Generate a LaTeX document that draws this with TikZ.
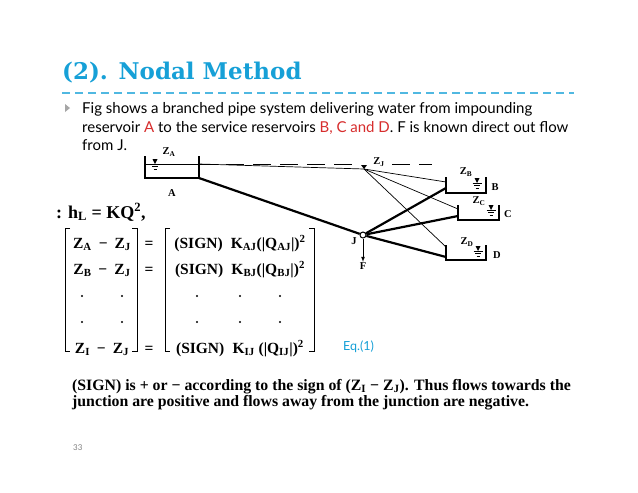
\documentclass[tikz,border=0pt]{standalone}
\usepackage{fontspec}
\setmainfont{Liberation Serif}
\newfontfamily\gillfont{Lato}
\newfontfamily\slabfont{DejaVu Serif}
\usetikzlibrary{calc}
\usetikzlibrary{arrows}
\definecolor{titlecyan}{RGB}{22,160,215}
\definecolor{textred}{RGB}{215,45,45}
\newcommand\zs[2]{#1\textsubscript{#2}}

\tikzset{
  wsym/.pic={\fill (-2.5,-5) -- (2.5,-5) -- (0,0) -- cycle;
    \draw (-4.5,0) -- (4.5,0); \draw (-3,2.5) -- (3,2.5); \draw (-1.5,5) -- (1.5,5);}
}

\begin{document}
\begin{tikzpicture}[x=1pt,y=-1pt,
  pipe/.style={line width=0.7pt},
  mainpipe/.style={line width=2.2pt},
  tank/.style={line width=1.3pt},
  lab/.style={font=\bfseries\fontsize{10.5}{10.5}\selectfont, inner sep=0.5pt},
  body/.style={font=\gillfont\fontsize{15}{15}\selectfont, inner sep=0pt, anchor=base west},
  eqn/.style={font=\bfseries\fontsize{15.5}{15.5}\selectfont, inner sep=0pt, anchor=base},
  note/.style={font=\bfseries\fontsize{15.8}{15.8}\selectfont, inner sep=0pt, anchor=base west}]
\useasboundingbox [fill=white] (0,0) rectangle (638,493);

% title and rule
\node [anchor=base west, inner sep=0pt, text=titlecyan,
  font=\slabfont\bfseries\fontsize{23}{23}\selectfont] (title) at (62,79) {(2). Nodal Method};
\draw [titlecyan!75, line width=1.8pt, dash pattern=on 8pt off 5pt] (62,93) -- (574,93);

% bullet text
\fill [gray!70] (65,104) -- (70,108) -- (65,112) -- cycle;
\node [body] (line1) at (82,113) {Fig shows a branched pipe system delivering water from impounding};
\node [body] (line2) at (82,132) {reservoir \textcolor{textred}{A} to the service reservoirs \textcolor{textred}{B, C and D}. F is known direct out flow};
\node [body] (line3) at (82,150) {from J.};

% reservoirs
\draw [tank] (145,156) -- (145,178) -- (199,178) -- (199,156);
\draw [pipe] (145,164) -- (199,164);
\coordinate (Atop) at (199,164);
\coordinate (Abot) at (199,178);
\pic at (155,164) {wsym};
\node [lab] (ZA) at (169,152) {\zs{Z}{A}};
\node [lab] (A) at (172,193) {A};

\draw [tank] (446,177) -- (446,193) -- (486,193) -- (486,177);
\coordinate (Btop) at (446,182);
\coordinate (Bbot) at (446,188);
\pic at (477,183) {wsym};
\node [lab] (ZB) at (466,172) {\zs{Z}{B}};
\node [lab] (B) at (495,187) {B};

\draw [tank] (458,205) -- (458,220) -- (499,220) -- (499,205);
\coordinate (Ctop) at (458,209);
\coordinate (Cbot) at (458,216);
\pic at (491,210) {wsym};
\node [lab] (ZC) at (479,201) {\zs{Z}{C}};
\node [lab] (C) at (508,214) {C};

\draw [tank] (446,245) -- (446,260) -- (486,260) -- (486,245);
\coordinate (Dtop) at (446,247);
\coordinate (Dbot) at (446,257);
\pic at (478,251) {wsym};
\node [lab] (ZD) at (467,242) {\zs{Z}{D}};
\node [lab] (D) at (497,255) {D};

% hydraulic grade line
\draw [pipe, dash pattern=on 18pt off 9pt] (Atop) -- (352,164);
\draw [pipe, dash pattern=on 18pt off 9pt] (392,164) -- (432,164);
\coordinate (ZJm) at (364,169);
\fill (361,165) -- (367,165) -- (ZJm) -- cycle;
\node [lab] (ZJ) at (379,162) {\zs{Z}{J}};
\foreach \t in {A,B,C,D}
  \draw [pipe] (ZJm) -- (\t top);

% junction and pipes
\node [circle, draw, fill=white, line width=1pt, inner sep=0pt, minimum size=6pt] (J) at (363,235) {};
\node [lab] (Jl) at (354,241) {J};
\node [lab] (F) at (363,266) {F};
\draw [pipe, -latex] (J) -- (F);
\foreach \t in {A,B,C,D}
  \draw [mainpipe] (\t bot) -- (J);

% head loss law
\node [note, font=\bfseries\fontsize{18}{18}\selectfont] (law) at (56,218) {: \zs{h}{L} = KQ\textsuperscript{2},};

% matrix brackets
\draw [line width=1pt] (70,228) -- (65,228) -- (65,351) -- (70,351);
\draw [line width=1pt] (132,228) -- (137,228) -- (137,351) -- (132,351);
\draw [line width=1pt] (170,228) -- (165,228) -- (165,351) -- (170,351);
\draw [line width=1pt] (309,228) -- (314,228) -- (314,351) -- (309,351);

\node [eqn] (L1) at (102,248) {\zs{Z}{A}\hspace{7pt}−\hspace{7pt}\zs{Z}{J}};
\node [eqn] (L2) at (102,274) {\zs{Z}{B}\hspace{7pt}−\hspace{7pt}\zs{Z}{J}};
\node [eqn] (L5) at (102,353) {\zs{Z}{I}\hspace{7pt}−\hspace{7pt}\zs{Z}{J}};
\foreach \y/\r in {248/1,274/2,353/5}
  \node [eqn] (eq\r) at (149,\y) {=};
\node [eqn] (R1) at (240,248) {(SIGN)\; \zs{K}{AJ}(|\zs{Q}{AJ}|)\textsuperscript{2}};
\node [eqn] (R2) at (240,274) {(SIGN)\; \zs{K}{BJ}(|\zs{Q}{BJ}|)\textsuperscript{2}};
\node [eqn] (R5) at (240,353) {(SIGN)\; \zs{K}{IJ} (|\zs{Q}{IJ}|)\textsuperscript{2}};
\foreach \y in {296,322}
  \foreach \x in {82,122,197,240,280}
    \fill (\x,\y) circle (1.1pt);
\node [anchor=base west, inner sep=0pt, text=titlecyan,
  font=\gillfont\fontsize{12.5}{12.5}\selectfont] (eqno) at (343,350) {Eq.(1)};

% note
\node [note] (note1) at (72,390) {(SIGN) is + or − according to the sign of (\zs{Z}{I} − \zs{Z}{J}). Thus flows towards the};
\node [note] (note2) at (72,406) {junction are positive and flows away from the junction are negative.};
\node [anchor=base west, inner sep=0pt, text=gray, font=\gillfont\fontsize{8}{8}\selectfont] (page) at (73,450) {33};
\end{tikzpicture}
\end{document}
